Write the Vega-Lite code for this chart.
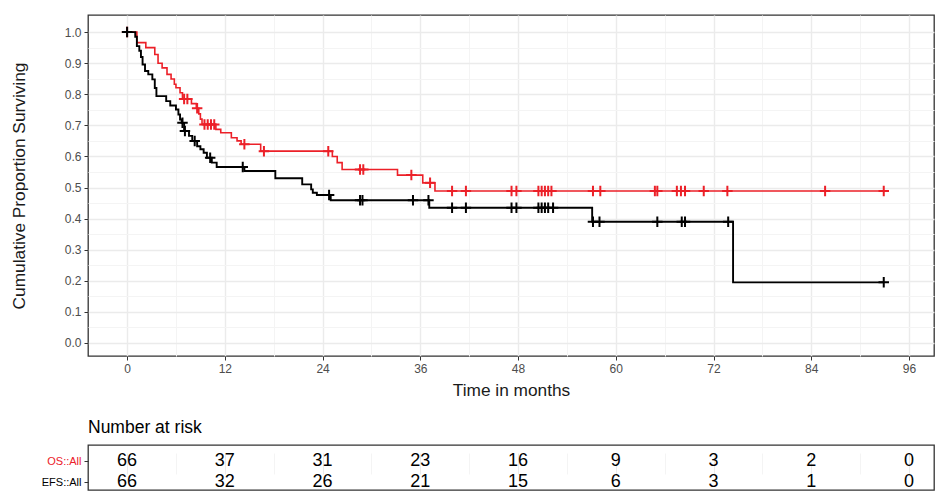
{
  "$schema": "https://vega.github.io/schema/vega-lite/v6.json",
  "background": "white",
  "padding": {"left": 9, "top": 14, "right": 1, "bottom": 0},
  "spacing": 18,
  "config": {
    "font": "Liberation Sans, Arial, sans-serif",
    "view": {"stroke": "#333333", "strokeWidth": 1.3},
    "axis": {
      "domain": false,
      "tickColor": "#333333",
      "tickSize": 4,
      "labelColor": "#4D4D4D",
      "labelFontSize": 12,
      "labelPadding": 3,
      "titleFontSize": 17.3,
      "titleFontWeight": "normal",
      "titleColor": "#1a1a1a"
    }
  },
  "datasets": {
    "km": [
      {"curve": "OS", "t": 0, "s": 1.0}, {"curve": "OS", "t": 1.2, "s": 0.966}, {"curve": "OS", "t": 2.3, "s": 0.95},
      {"curve": "OS", "t": 3.4, "s": 0.928}, {"curve": "OS", "t": 3.8, "s": 0.9}, {"curve": "OS", "t": 4.3, "s": 0.885},
      {"curve": "OS", "t": 4.9, "s": 0.864}, {"curve": "OS", "t": 5.4, "s": 0.849}, {"curve": "OS", "t": 5.8, "s": 0.832},
      {"curve": "OS", "t": 6.0, "s": 0.821}, {"curve": "OS", "t": 6.5, "s": 0.805}, {"curve": "OS", "t": 6.8, "s": 0.785},
      {"curve": "OS", "t": 7.9, "s": 0.77}, {"curve": "OS", "t": 8.5, "s": 0.755}, {"curve": "OS", "t": 8.8, "s": 0.737},
      {"curve": "OS", "t": 9.0, "s": 0.72}, {"curve": "OS", "t": 9.2, "s": 0.703}, {"curve": "OS", "t": 10.9, "s": 0.687},
      {"curve": "OS", "t": 11.5, "s": 0.676}, {"curve": "OS", "t": 12.8, "s": 0.66}, {"curve": "OS", "t": 13.5, "s": 0.65},
      {"curve": "OS", "t": 14.0, "s": 0.639}, {"curve": "OS", "t": 16.4, "s": 0.617}, {"curve": "OS", "t": 25.2, "s": 0.6},
      {"curve": "OS", "t": 25.8, "s": 0.58}, {"curve": "OS", "t": 26.4, "s": 0.558}, {"curve": "OS", "t": 33.2, "s": 0.54},
      {"curve": "OS", "t": 36.3, "s": 0.515}, {"curve": "OS", "t": 37.8, "s": 0.489}, {"curve": "OS", "t": 92.9, "s": 0.489},
      {"curve": "EFS", "t": 0, "s": 1.0}, {"curve": "EFS", "t": 1.0, "s": 0.985}, {"curve": "EFS", "t": 1.2, "s": 0.955},
      {"curve": "EFS", "t": 1.5, "s": 0.94}, {"curve": "EFS", "t": 1.7, "s": 0.92}, {"curve": "EFS", "t": 1.9, "s": 0.896},
      {"curve": "EFS", "t": 2.2, "s": 0.875}, {"curve": "EFS", "t": 2.6, "s": 0.864}, {"curve": "EFS", "t": 3.1, "s": 0.848},
      {"curve": "EFS", "t": 3.4, "s": 0.82}, {"curve": "EFS", "t": 3.6, "s": 0.794}, {"curve": "EFS", "t": 4.8, "s": 0.778},
      {"curve": "EFS", "t": 5.3, "s": 0.764}, {"curve": "EFS", "t": 6.0, "s": 0.751}, {"curve": "EFS", "t": 6.3, "s": 0.735},
      {"curve": "EFS", "t": 6.5, "s": 0.719}, {"curve": "EFS", "t": 6.7, "s": 0.708}, {"curve": "EFS", "t": 7.0, "s": 0.682},
      {"curve": "EFS", "t": 7.6, "s": 0.666}, {"curve": "EFS", "t": 8.0, "s": 0.65}, {"curve": "EFS", "t": 8.6, "s": 0.633},
      {"curve": "EFS", "t": 9.0, "s": 0.623}, {"curve": "EFS", "t": 9.4, "s": 0.612}, {"curve": "EFS", "t": 9.8, "s": 0.596},
      {"curve": "EFS", "t": 10.4, "s": 0.58}, {"curve": "EFS", "t": 11.0, "s": 0.566}, {"curve": "EFS", "t": 14.4, "s": 0.553},
      {"curve": "EFS", "t": 18.2, "s": 0.53}, {"curve": "EFS", "t": 21.5, "s": 0.51}, {"curve": "EFS", "t": 22.6, "s": 0.494},
      {"curve": "EFS", "t": 22.8, "s": 0.483}, {"curve": "EFS", "t": 23.3, "s": 0.476}, {"curve": "EFS", "t": 25.0, "s": 0.459},
      {"curve": "EFS", "t": 37.1, "s": 0.435}, {"curve": "EFS", "t": 57.1, "s": 0.39}, {"curve": "EFS", "t": 74.4, "s": 0.195},
      {"curve": "EFS", "t": 92.9, "s": 0.195}
    ],
    "cens": [
      {"curve": "OS", "t": 0, "s": 1.0}, {"curve": "OS", "t": 7.0, "s": 0.785}, {"curve": "OS", "t": 7.4, "s": 0.785},
      {"curve": "OS", "t": 8.6, "s": 0.755}, {"curve": "OS", "t": 9.5, "s": 0.703}, {"curve": "OS", "t": 9.9, "s": 0.703},
      {"curve": "OS", "t": 10.3, "s": 0.703}, {"curve": "OS", "t": 10.7, "s": 0.703}, {"curve": "OS", "t": 14.4, "s": 0.639},
      {"curve": "OS", "t": 16.8, "s": 0.617}, {"curve": "OS", "t": 24.7, "s": 0.617}, {"curve": "OS", "t": 28.6, "s": 0.558},
      {"curve": "OS", "t": 29.0, "s": 0.558}, {"curve": "OS", "t": 34.9, "s": 0.54}, {"curve": "OS", "t": 37.2, "s": 0.515},
      {"curve": "OS", "t": 39.9, "s": 0.489}, {"curve": "OS", "t": 41.6, "s": 0.489}, {"curve": "OS", "t": 47.2, "s": 0.489},
      {"curve": "OS", "t": 47.8, "s": 0.489}, {"curve": "OS", "t": 50.5, "s": 0.489}, {"curve": "OS", "t": 50.9, "s": 0.489},
      {"curve": "OS", "t": 51.3, "s": 0.489}, {"curve": "OS", "t": 51.7, "s": 0.489}, {"curve": "OS", "t": 52.1, "s": 0.489},
      {"curve": "OS", "t": 57.2, "s": 0.489}, {"curve": "OS", "t": 58.1, "s": 0.489}, {"curve": "OS", "t": 64.8, "s": 0.489},
      {"curve": "OS", "t": 65.1, "s": 0.489}, {"curve": "OS", "t": 67.5, "s": 0.489}, {"curve": "OS", "t": 68.0, "s": 0.489},
      {"curve": "OS", "t": 68.5, "s": 0.489}, {"curve": "OS", "t": 70.8, "s": 0.489}, {"curve": "OS", "t": 73.7, "s": 0.489},
      {"curve": "OS", "t": 85.7, "s": 0.489}, {"curve": "OS", "t": 92.9, "s": 0.489},
      {"curve": "EFS", "t": 0, "s": 1.0}, {"curve": "EFS", "t": 6.8, "s": 0.708}, {"curve": "EFS", "t": 7.1, "s": 0.682},
      {"curve": "EFS", "t": 8.3, "s": 0.65}, {"curve": "EFS", "t": 10.2, "s": 0.596}, {"curve": "EFS", "t": 14.2, "s": 0.566},
      {"curve": "EFS", "t": 24.8, "s": 0.476}, {"curve": "EFS", "t": 28.6, "s": 0.459}, {"curve": "EFS", "t": 28.9, "s": 0.459},
      {"curve": "EFS", "t": 35.1, "s": 0.459}, {"curve": "EFS", "t": 37.0, "s": 0.459}, {"curve": "EFS", "t": 39.9, "s": 0.435},
      {"curve": "EFS", "t": 41.6, "s": 0.435}, {"curve": "EFS", "t": 47.2, "s": 0.435}, {"curve": "EFS", "t": 47.8, "s": 0.435},
      {"curve": "EFS", "t": 50.5, "s": 0.435}, {"curve": "EFS", "t": 50.9, "s": 0.435}, {"curve": "EFS", "t": 51.3, "s": 0.435},
      {"curve": "EFS", "t": 51.7, "s": 0.435}, {"curve": "EFS", "t": 52.3, "s": 0.435}, {"curve": "EFS", "t": 57.2, "s": 0.39},
      {"curve": "EFS", "t": 58.0, "s": 0.39}, {"curve": "EFS", "t": 65.1, "s": 0.39}, {"curve": "EFS", "t": 68.1, "s": 0.39},
      {"curve": "EFS", "t": 68.5, "s": 0.39}, {"curve": "EFS", "t": 73.8, "s": 0.39}, {"curve": "EFS", "t": 92.9, "s": 0.195}
    ],
    "risk": [
      {"strata": "OS::All", "t": 0, "n": 66}, {"strata": "OS::All", "t": 12, "n": 37}, {"strata": "OS::All", "t": 24, "n": 31},
      {"strata": "OS::All", "t": 36, "n": 23}, {"strata": "OS::All", "t": 48, "n": 16}, {"strata": "OS::All", "t": 60, "n": 9},
      {"strata": "OS::All", "t": 72, "n": 3}, {"strata": "OS::All", "t": 84, "n": 2}, {"strata": "OS::All", "t": 96, "n": 0},
      {"strata": "EFS::All", "t": 0, "n": 66}, {"strata": "EFS::All", "t": 12, "n": 32}, {"strata": "EFS::All", "t": 24, "n": 26},
      {"strata": "EFS::All", "t": 36, "n": 21}, {"strata": "EFS::All", "t": 48, "n": 15}, {"strata": "EFS::All", "t": 60, "n": 6},
      {"strata": "EFS::All", "t": 72, "n": 3}, {"strata": "EFS::All", "t": 84, "n": 1}, {"strata": "EFS::All", "t": 96, "n": 0}
    ]
  },
  "vconcat": [
    {
      "width": 846,
      "height": 341,
      "encoding": {
        "x": {
          "field": "t", "type": "quantitative",
          "scale": {"domain": [-4.8, 99.07], "nice": false, "zero": false},
          "axis": {
            "title": "Time in months",
            "titlePadding": 7,
            "values": [0, 6, 12, 18, 24, 30, 36, 42, 48, 54, 60, 66, 72, 78, 84, 90, 96],
            "labelExpr": "datum.value % 12 == 0 ? datum.label : ''",
            "tickOpacity": {"condition": {"test": "datum.value % 12 != 0", "value": 0}, "value": 1},
            "gridColor": {"condition": {"test": "datum.value % 12 != 0", "value": "#F4F4F4"}, "value": "#EBEBEB"},
            "gridWidth": {"condition": {"test": "datum.value % 12 != 0", "value": 1}, "value": 1.4}
          }
        },
        "y": {
          "field": "s", "type": "quantitative",
          "scale": {"domain": [-0.042, 1.055], "nice": false, "zero": false},
          "axis": {
            "title": "Cumulative Proportion Surviving",
            "titlePadding": 36,
            "values": [0, 0.05, 0.1, 0.15, 0.2, 0.25, 0.3, 0.35, 0.4, 0.45, 0.5, 0.55, 0.6, 0.65, 0.7, 0.75, 0.8, 0.85, 0.9, 0.95, 1.0],
            "labelExpr": "round(datum.value * 100) % 10 == 0 ? format(datum.value, '.1f') : ''",
            "tickOpacity": {"condition": {"test": "round(datum.value * 100) % 10 != 0", "value": 0}, "value": 1},
            "gridColor": {"condition": {"test": "round(datum.value * 100) % 10 != 0", "value": "#F4F4F4"}, "value": "#EBEBEB"},
            "gridWidth": {"condition": {"test": "round(datum.value * 100) % 10 != 0", "value": 1}, "value": 1.4}
          }
        }
      },
      "layer": [
        {
          "data": {"name": "km"},
          "transform": [{"filter": "datum.curve == 'OS'"}],
          "mark": {"type": "line", "interpolate": "step-after", "color": "#EC2028", "strokeWidth": 1.6}
        },
        {
          "data": {"name": "cens"},
          "transform": [{"filter": "datum.curve == 'OS'"}],
          "mark": {"type": "point", "shape": "M-1,0H1M0,-1V1", "filled": false, "color": "#EC2028", "strokeWidth": 2, "size": 110, "opacity": 1}
        },
        {
          "data": {"name": "km"},
          "transform": [{"filter": "datum.curve == 'EFS'"}],
          "mark": {"type": "line", "interpolate": "step-after", "color": "#000000", "strokeWidth": 1.9}
        },
        {
          "data": {"name": "cens"},
          "transform": [{"filter": "datum.curve == 'EFS'"}],
          "mark": {"type": "point", "shape": "M-1,0H1M0,-1V1", "filled": false, "color": "#000000", "strokeWidth": 2, "size": 110, "opacity": 1}
        }
      ]
    },
    {
      "width": 846,
      "height": 45,
      "title": {"text": "Number at risk", "anchor": "start", "frame": "group", "fontSize": 17.5, "fontWeight": "normal", "color": "#000000", "offset": 9},
      "data": {"name": "risk"},
      "mark": {"type": "text", "fontSize": 18, "color": "#000000"},
      "encoding": {
        "x": {
          "field": "t", "type": "quantitative",
          "scale": {"domain": [-4.8, 99.07], "nice": false, "zero": false},
          "axis": {
            "title": null, "labels": false, "ticks": false,
            "values": [0, 6, 12, 18, 24, 30, 36, 42, 48, 54, 60, 66, 72, 78, 84, 90, 96],
            "gridColor": {"condition": {"test": "datum.value % 12 != 0", "value": "#F4F4F4"}, "value": "#EBEBEB"}
          }
        },
        "y": {
          "field": "strata", "type": "nominal",
          "sort": ["OS::All", "EFS::All"],
          "scale": {"type": "point", "range": [16, 37], "padding": 0},
          "axis": {
            "title": null,
            "labelFontSize": 11,
            "labelColor": {"condition": {"test": "datum.value == 'OS::All'", "value": "#EC2028"}, "value": "#000000"},
            "gridColor": "#EBEBEB"
          }
        },
        "text": {"field": "n", "type": "quantitative"}
      }
    }
  ]
}
